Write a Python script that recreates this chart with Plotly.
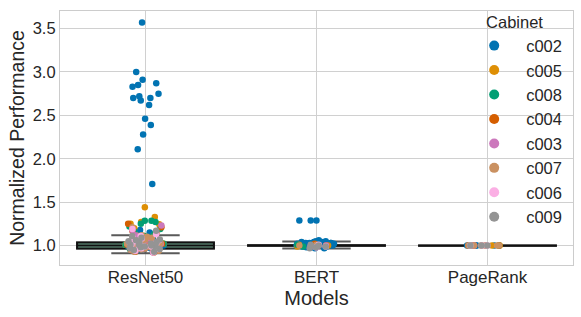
import plotly.graph_objects as go

# ---------------- data ----------------
models = ["ResNet50", "BERT", "PageRank"]
cabinets = ["c002", "c005", "c008", "c004", "c003", "c007", "c006", "c009"]
palette = ["#0173b2", "#de8f05", "#029e73", "#d55e00",
           "#cc78bc", "#ca9161", "#fbafe4", "#949494"]

# ResNet50 normalized performance per cabinet
resnet50_c002 = [3.57, 3.00, 2.91, 2.87, 2.85, 2.83, 2.75, 2.72, 2.70, 2.70, 2.67,
                 2.62, 2.46, 2.39, 2.28, 2.11, 1.71,
                 0.93, 0.95, 0.96, 0.97, 0.98, 0.99, 1.00, 1.00, 1.01, 1.02, 1.03,
                 1.04, 1.05, 1.06, 1.08, 1.10, 1.12, 1.15, 1.18, 0.97, 0.99, 1.01,
                 1.02, 0.94, 1.07, 0.96, 0.98, 1.00, 1.01, 1.03, 1.05, 0.99, 1.02,
                 1.04, 0.97, 1.00, 1.09, 1.11, 0.95]
resnet50_c005 = [1.44, 1.33, 1.27, 1.245, 1.25, 1.20, 1.15, 1.12, 1.10, 1.08, 1.06,
                 1.04, 1.03, 1.02, 1.01, 1.00, 0.99, 0.98, 0.97, 0.96, 0.95, 0.93,
                 0.94, 1.05, 1.09, 1.00, 1.01, 0.98, 1.03, 0.96, 1.07, 1.02, 0.99,
                 1.04, 1.11, 0.97]
resnet50_c008 = [1.285, 1.285, 1.25, 1.27, 1.22, 1.19, 1.16, 1.13, 1.11, 1.09, 1.07,
                 1.05, 1.04, 1.03, 1.02, 1.01, 1.00, 0.99, 0.98, 0.97, 0.96, 0.95,
                 0.94, 0.93, 1.00, 1.02, 1.06, 0.99, 1.03, 0.97, 1.08, 1.01, 0.96,
                 1.04, 1.10, 0.98]
resnet50_c004 = [1.25, 1.21, 1.17, 1.14, 1.11, 1.08, 1.06, 1.04, 1.03, 1.02, 1.01,
                 1.00, 0.99, 0.98, 0.97, 0.96, 0.95, 0.94, 0.93, 0.92, 1.00, 1.05,
                 1.02, 0.98, 1.07, 0.96, 1.09, 1.01, 0.99, 1.04]
resnet50_c003 = [1.23, 1.18, 1.14, 1.10, 1.07, 1.05, 1.03, 1.02, 1.01, 1.00, 0.99,
                 0.98, 0.97, 0.96, 0.95, 0.94, 0.92, 1.01, 1.04, 1.06, 0.98, 1.08,
                 0.97, 1.02, 1.00, 0.95, 1.12]
resnet50_c007 = [1.21, 1.16, 1.12, 1.09, 1.06, 1.04, 1.02, 1.01, 1.00, 0.99, 0.98,
                 0.97, 0.96, 0.95, 0.93, 0.92, 1.03, 0.99, 1.05, 1.00, 0.97, 1.07,
                 1.02, 0.94, 1.10]
resnet50_c006 = [1.19, 1.13, 1.09, 1.06, 1.04, 1.02, 1.01, 1.00, 0.99, 0.98, 0.97,
                 0.96, 0.94, 0.92, 1.03, 1.05, 0.99, 1.08, 1.01, 0.97, 1.11]
resnet50_c009 = [1.17, 1.11, 1.07, 1.04, 1.02, 1.01, 1.00, 0.99, 0.98, 0.97, 0.95,
                 0.93, 1.03, 1.06, 0.99, 1.09, 1.01, 0.96, 1.05]

# BERT
bert_c002 = [1.29, 1.29, 1.29, 1.06, 1.05, 1.04, 1.04, 1.03, 1.03, 1.02, 1.02, 1.02,
             1.01, 1.01, 1.01, 1.00, 1.00, 1.00, 1.00, 0.99, 0.99, 0.99, 0.98, 0.98,
             0.97, 1.03, 1.02, 1.01, 1.00, 0.99, 1.00, 1.01, 1.02, 1.04, 1.03, 0.98,
             1.00, 1.05, 0.99, 1.01, 1.02, 1.00, 0.97, 1.03, 1.01, 0.99, 1.02, 1.00,
             1.04, 0.98]
bert_c005 = [1.00, 0.99, 1.01]
bert_c008 = [1.01, 0.99]
bert_c004 = [1.00, 1.02]
bert_c003 = [0.99, 1.00, 0.98]
bert_c007 = [1.00, 1.01]
bert_c006 = [0.99, 1.01, 0.98]
bert_c009 = [0.98, 1.00, 0.99, 0.97, 1.01]

# PageRank
pagerank_c002 = [1.00, 1.00, 1.00, 1.00, 1.00, 1.00, 1.00]
pagerank_c005 = [1.00, 1.00, 1.00]
pagerank_c008 = [1.00, 1.00]
pagerank_c004 = [1.00, 1.00, 1.00]
pagerank_c003 = [1.00, 1.00]
pagerank_c007 = [1.00, 1.00, 1.00, 1.00, 1.00, 1.00, 1.00]
pagerank_c006 = [1.00, 1.00, 1.00]
pagerank_c009 = [1.00, 1.00, 1.00]

# box statistics per model
box_q1 = [0.965, 0.997, 0.999]
box_median = [1.00, 1.00, 1.00]
box_q3 = [1.035, 1.003, 1.001]
box_lower = [0.91, 0.966, 0.999]
box_upper = [1.12, 1.048, 1.001]
box_fill = ["#6fa58c", "#3c7a64", "#555555"]

values = {
    "ResNet50": [resnet50_c002, resnet50_c005, resnet50_c008, resnet50_c004,
                 resnet50_c003, resnet50_c007, resnet50_c006, resnet50_c009],
    "BERT": [bert_c002, bert_c005, bert_c008, bert_c004,
             bert_c003, bert_c007, bert_c006, bert_c009],
    "PageRank": [pagerank_c002, pagerank_c005, pagerank_c008, pagerank_c004,
                 pagerank_c003, pagerank_c007, pagerank_c006, pagerank_c009],
}

FONT = "Liberation Sans, Arial, sans-serif"
TXT = "#262626"

fig = go.Figure()

# whiskers (grey) then boxes (black)
for i, m in enumerate(models):
    fig.add_trace(go.Box(
        x=[m], q1=[box_q1[i]], median=[box_median[i]], q3=[box_q3[i]],
        lowerfence=[box_lower[i]], upperfence=[box_upper[i]],
        width=0.8, whiskerwidth=0.5, boxpoints=False,
        line=dict(color="#5a5a5a", width=2), fillcolor=box_fill[i],
        showlegend=False, hoverinfo="skip"))
for i, m in enumerate(models):
    fig.add_trace(go.Box(
        x=[m], q1=[box_q1[i]], median=[box_median[i]], q3=[box_q3[i]],
        lowerfence=[box_q1[i]], upperfence=[box_q3[i]],
        width=0.8, whiskerwidth=0.0, boxpoints=False,
        line=dict(color="#111111", width=2), fillcolor=box_fill[i],
        showlegend=False, hoverinfo="skip"))

# strip points, coloured by cabinet
for c, cab in enumerate(cabinets):
    core_x, core_y, out_x, out_y = [], [], [], []
    for i, m in enumerate(models):
        for v in values[m][c]:
            if box_lower[i] <= v <= box_upper[i]:
                core_x.append(m); core_y.append(v)
            else:
                out_x.append(m); out_y.append(v)
    for xs, ys in ((core_x, core_y), (out_x, out_y)):
        if not ys:
            continue
        fig.add_trace(go.Box(
            x=xs, y=ys, width=0.8, boxpoints="all", jitter=0.3, pointpos=0,
            fillcolor="rgba(0,0,0,0)", line=dict(color="rgba(0,0,0,0)", width=0),
            marker=dict(color=palette[c], size=6.5, line=dict(width=0)),
            showlegend=False, hoverinfo="y"))

# legend entries
for c, cab in enumerate(cabinets):
    fig.add_trace(go.Scatter(
        x=[None], y=[None], mode="markers", name=cab,
        marker=dict(color=palette[c], size=10)))

fig.update_layout(
    width=581, height=317,
    margin=dict(l=60, r=8, t=10, b=52),
    paper_bgcolor="white", plot_bgcolor="white",
    boxmode="overlay",
    font=dict(family=FONT, color=TXT, size=17),
    legend=dict(
        title=dict(text="Cabinet", side="top center", font=dict(size=16.5, color=TXT)),
        x=0.784, xanchor="left", y=1.012, yanchor="top", maxheight=1,
        bgcolor="rgba(0,0,0,0)", itemwidth=54,
        font=dict(size=16.5, color=TXT)),
)
fig.update_xaxes(
    type="category", categoryorder="array", categoryarray=models,
    range=[-0.5, 2.5], showgrid=True, gridcolor="#d0d0d0", gridwidth=1,
    showline=True, mirror=True, linecolor="#cccccc", linewidth=1.25,
    ticks="", tickfont=dict(size=17, color=TXT), ticklabelstandoff=-4,
    title=dict(text="Models", font=dict(size=20, color=TXT), standoff=2),
    zeroline=False)
fig.update_yaxes(
    range=[0.776, 3.702], tickvals=[1.0, 1.5, 2.0, 2.5, 3.0, 3.5],
    tickformat=".1f", showgrid=True, gridcolor="#d0d0d0", gridwidth=1,
    showline=True, mirror=True, linecolor="#cccccc", linewidth=1.25,
    ticks="", tickfont=dict(size=16.5, color=TXT),
    title=dict(text="Normalized Performance", font=dict(size=19.5, color=TXT), standoff=2),
    zeroline=False)

fig.write_html("out.html", config={"displayModeBar": False},
               post_script="document.body.style.margin='0px';")
